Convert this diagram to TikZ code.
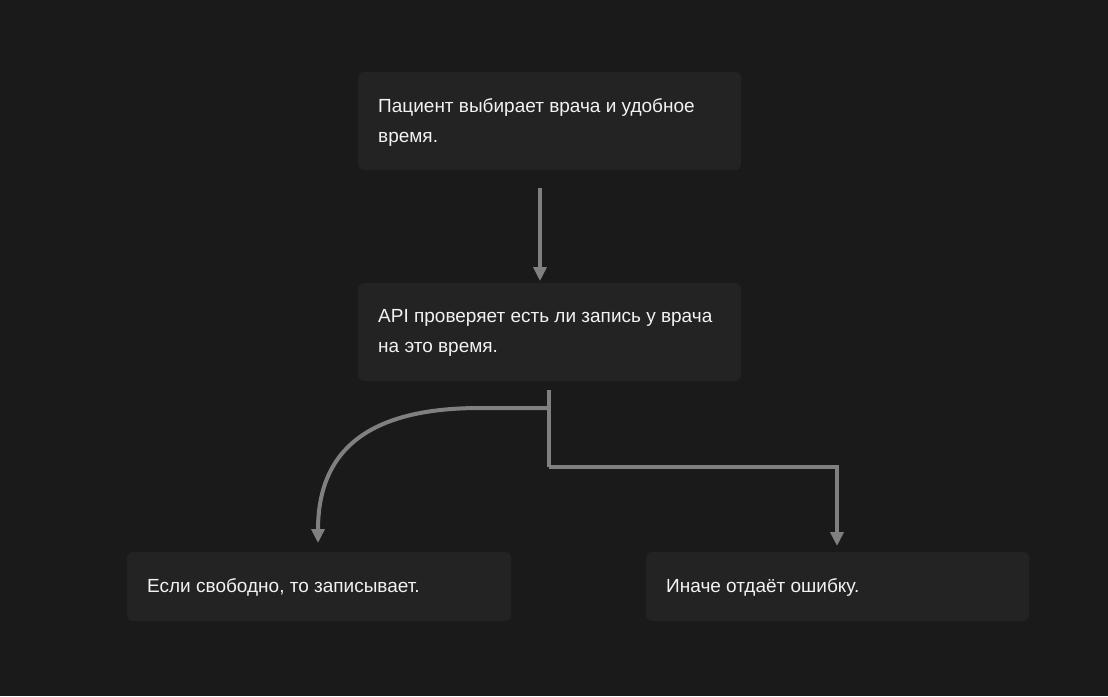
\documentclass[tikz,border=0pt]{standalone}
\usepackage{fontspec}
\setmainfont{Liberation Sans}
\usetikzlibrary{arrows.meta}
\definecolor{bgc}{HTML}{1A1A1A}
\definecolor{boxc}{HTML}{232323}
\definecolor{txtc}{HTML}{F2F2F2}
\definecolor{linec}{HTML}{808080}
\tikzset{
  card/.style={fill=boxc, rounded corners=6pt, anchor=north west, inner sep=0pt, outer sep=0pt},
  cardtext/.style={text=txtc, anchor=north west, align=left, font=\fontsize{19pt}{30pt}\selectfont, inner sep=0pt},
  conn/.style={draw=linec, line width=4pt, -{Triangle[width=13pt,length=14pt]}},
  connplain/.style={draw=linec, line width=4pt}
}
\begin{document}
\begin{tikzpicture}[x=1pt,y=-1pt]
\fill[bgc] (0,0) rectangle (1108,696);
\useasboundingbox (0,0) rectangle (1108,696);
% boxes
\node[card, minimum width=383pt, minimum height=98pt] (b1) at (358,72) {};
\node[card, minimum width=383pt, minimum height=98pt] (b2) at (358,283) {};
\node[card, minimum width=384pt, minimum height=69pt] (b3) at (127,552) {};
\node[card, minimum width=383pt, minimum height=69pt] (b4) at (646,552) {};
% texts
\node[cardtext] (t1) at (378,98) {Пациент выбирает врача и удобное\\время.};
\node[cardtext] (t2) at (378,309) {API проверяет есть ли запись у врача\\на это время.};
\node[cardtext] (t3) at (147,578) {Если свободно, то записывает.};
\node[cardtext] (t4) at (666,578) {Иначе отдаёт ошибку.};
% connectors
\coordinate (s1) at (540,188);
\draw[conn] (s1) -- ([yshift=2pt]b2.north -| s1);
\coordinate (s2) at (549,390);
\coordinate (j2) at (549,408);
\coordinate (k2) at (549,467);
\coordinate (e3) at (318,543);
\coordinate (e4) at (837,546);
\draw[connplain] (s2) -- (k2);
\draw[conn] (j2) -- (480,408) .. controls (375,408) and (318,445) .. (e3);
\draw[conn] (k2) -- (e4 |- k2) -- (e4);
\end{tikzpicture}
\end{document}
